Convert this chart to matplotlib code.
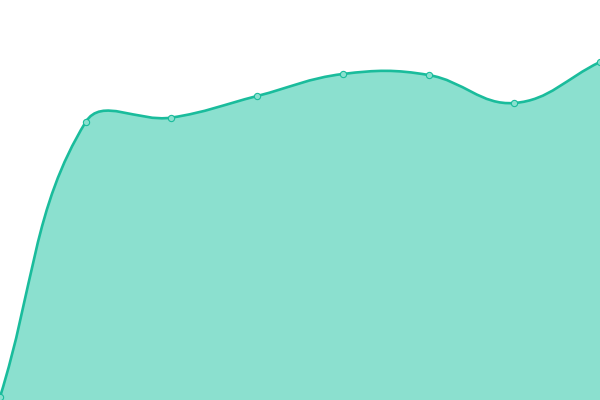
import numpy as np
import matplotlib
matplotlib.use("Agg")
import matplotlib.pyplot as plt
from matplotlib.path import Path
from matplotlib.patches import PathPatch

# data
x_vals = [0, 1, 2, 3, 4, 5, 6, 7]
y_vals = [0.75, 69.5, 70.6, 76.0, 81.5, 81.25, 74.25, 84.5]

line_color = "#1abc9c"
fill_color = "#8be0cf"
tension = 0.4

fig = plt.figure(figsize=(6, 4), dpi=100)
ax = fig.add_axes([0, 0, 1, 1])
ax.set_xlim(0, 7)
ax.set_ylim(0, 100)
ax.axis("off")

# spline control points (chart.js style), distances in pixel space
sx, sy = 600 / 7, 4.0
pts = np.array([x_vals, y_vals], dtype=float).T
n = len(pts)
cp_prev = pts.copy()
cp_next = pts.copy()
for i in range(n):
    prev = pts[i - 1] if i > 0 else pts[i]
    cur = pts[i]
    nxt = pts[i + 1] if i < n - 1 else pts[i]
    d01 = np.hypot((cur[0] - prev[0]) * sx, (cur[1] - prev[1]) * sy)
    d12 = np.hypot((nxt[0] - cur[0]) * sx, (nxt[1] - cur[1]) * sy)
    tot = d01 + d12
    s01 = d01 / tot if tot else 0
    s12 = d12 / tot if tot else 0
    fa, fb = tension * s01, tension * s12
    cp_prev[i] = cur - fa * (nxt - prev)
    cp_next[i] = cur + fb * (nxt - prev)
cp_prev[:, 1] = np.clip(cp_prev[:, 1], 0, 100)
cp_next[:, 1] = np.clip(cp_next[:, 1], 0, 100)

verts = [tuple(pts[0])]
codes = [Path.MOVETO]
for i in range(n - 1):
    verts += [tuple(cp_next[i]), tuple(cp_prev[i + 1]), tuple(pts[i + 1])]
    codes += [Path.CURVE4] * 3

line_path = Path(verts, codes)
fill_verts = verts + [(x_vals[-1], 0), (x_vals[0], 0), verts[0]]
fill_codes = codes + [Path.LINETO, Path.LINETO, Path.CLOSEPOLY]

ax.add_patch(PathPatch(Path(fill_verts, fill_codes), facecolor=fill_color,
                       edgecolor="none"))
ax.add_patch(PathPatch(line_path, facecolor="none", edgecolor=line_color,
                       linewidth=1.9, capstyle="round", joinstyle="round"))
ax.plot(x_vals, y_vals, "o", markersize=4.5, markerfacecolor=fill_color,
        markeredgecolor=line_color, markeredgewidth=0.8, clip_on=False)

fig.savefig("out.png", dpi=100)
